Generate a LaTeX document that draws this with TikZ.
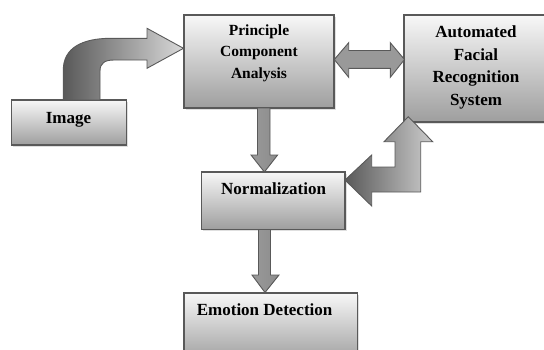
\documentclass[tikz,border=0pt]{standalone}
\usepackage{fontspec}
\setmainfont{Liberation Serif}
\usetikzlibrary{shadows}
\begin{document}
\begin{tikzpicture}[x=1pt,y=-1pt,
  box/.style={draw=black!65, line width=1.1pt, top color=black!3, bottom color=black!38,
              inner sep=0pt, outer sep=0pt,
              drop shadow={shadow xshift=1.5pt, shadow yshift=-1.5pt, opacity=0.25}},
  blk/.style={draw=black!65, line width=0.9pt, line join=miter},
  lbl/.style={font=\bfseries\fontsize{17}{20}\selectfont, inner sep=0pt, anchor=base},
  lbls/.style={font=\bfseries\fontsize{15.5}{19}\selectfont, inner sep=0pt, anchor=base}]
\useasboundingbox (0,0) rectangle (544,349);
\clip (0,0) rectangle (544,349);

% boxes
\node[box, minimum width=115pt, minimum height=45pt] (img) at (69.05,122.5) {};
\node[box, minimum width=150pt, minimum height=93pt] (pca) at (259,61.5) {};
\node[box, minimum width=148pt, minimum height=107pt] (afrs) at (478,68.5) {};
\node[box, minimum width=143.5pt, minimum height=57.5pt] (norm) at (273.25,200.75) {};
\node[box, minimum width=173.5pt, minimum height=69pt] (emo) at (270.75,327.5) {};

% labels
\node[lbl] (imgT) at (68.5,123) {Image};
\node[lbls] (pca1) at (259,35.7) {Principle};
\node[lbls] (pca2) at (259,56.7) {Component};
\node[lbls] (pca3) at (259,78) {Analysis};
\node[lbl] (afrs1) at (476,37.5) {Automated};
\node[lbl] (afrs2) at (476,60) {Facial};
\node[lbl] (afrs3) at (476,82.7) {Recognition};
\node[lbl] (afrs4) at (476,105.3) {System};
\node[lbl] (normT) at (273.6,194) {Normalization};
\node[lbl] (emoT) at (264.6,315) {Emotion Detection};

% curved block arrow: Image -> PCA
\path[blk, left color=black!65, right color=black!15]
  (63.3,100) -- (63.3,70) .. controls (63.3,48) and (82,38.5) .. (110,38.3)
  -- (147,38.3) -- (147,28.3) -- (183.5,48.3) -- (147,68.3) -- (147,60)
  -- (114,60) .. controls (105,60) and (100,63) .. (100,71) -- (100,100) -- cycle;

% double block arrow: PCA <-> AFRS
\path[blk, left color=black!40, middle color=black!5, right color=black!40]
  (334.3,59.5) -- (348.7,42.7) -- (348.7,50.5) -- (390.3,50.5) -- (390.3,42.7)
  -- (404.5,59.5) -- (390.3,77.3) -- (390.3,68.3) -- (348.7,68.3) -- (348.7,77.3) -- cycle;

% down block arrow: PCA -> Normalization
\path[blk, left color=black!40, middle color=black!10, right color=black!45]
  (257.5,108) -- (270,108) -- (270,155) -- (277.6,155) -- (264.4,172)
  -- (251,155) -- (257.5,155) -- cycle;

% down block arrow: Normalization -> Emotion Detection
\path[blk, left color=black!40, middle color=black!10, right color=black!45]
  (258.5,229.5) -- (270.5,229.5) -- (270.5,275) -- (279,275) -- (265,292.5)
  -- (252,275) -- (258.5,275) -- cycle;

% bent double block arrow: Normalization <-> AFRS
\path[blk, left color=black!65, right color=black!20]
  (345,180) -- (371.7,155) -- (371.7,167) -- (395,167) -- (395,141.7)
  -- (384,141.7) -- (408.3,116.7) -- (432.7,141.7) -- (420.7,141.7)
  -- (420.7,192) -- (371.7,192) -- (371.7,206) -- cycle;
\end{tikzpicture}
\end{document}
